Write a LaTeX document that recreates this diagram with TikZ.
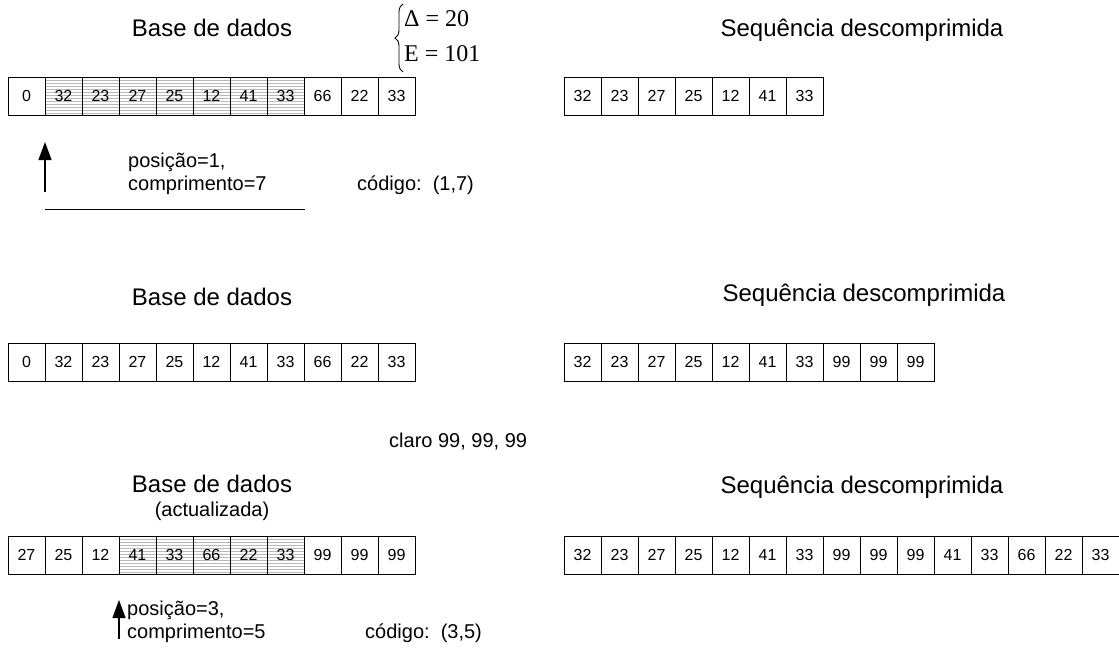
\documentclass[tikz,border=0pt]{standalone}
\usepackage{fontspec}
\setmainfont{Liberation Sans}
\newfontfamily\timesf{Liberation Serif}
\usetikzlibrary{patterns,arrows.meta,decorations.pathreplacing}
\begin{document}
\begin{tikzpicture}[x=1pt,y=-1pt,
  cell/.style={draw, line width=1pt, minimum width=37pt, minimum height=38pt, inner sep=0pt, font=\fontsize{16}{18}\selectfont},
  none/.style={},
  shd/.style={pattern=horizontal lines, pattern color=gray!55},
  title/.style={font=\fontsize{24}{28}\selectfont},
  lbl/.style={font=\fontsize{20}{23}\selectfont, anchor=west, inner sep=0pt},
  eq/.style={font=\timesf\fontsize{24}{28}\selectfont, anchor=west, inner sep=0pt},
  arr/.style={line width=1.2pt, -{Triangle[length=18pt,width=13pt]}}]
\useasboundingbox (0,0) rectangle (1119,657);

% ---- Row 1 ----
\node[title] (t1l) at (212,28) {Base de dados};
\node[title] (t1r) at (862,30) {Sequência descomprimida};
\draw[decorate, decoration={brace, amplitude=8pt}, line width=0.9pt] (403,72) -- (403,4);
\node[eq] (d1) at (404,19) {Δ = 20};
\node[eq] (d2) at (404,54) {E = 101};

\foreach \v/\s [count=\i] in {0/none,32/shd,23/shd,27/shd,25/shd,12/shd,41/shd,33/shd,66/none,22/none,33/none}
  \node[cell,\s] (a\i) at ({8+37*(\i-0.5)},96) {\v};
\foreach \v [count=\i] in {32,23,27,25,12,41,33}
  \node[cell] (b\i) at ({564+37*(\i-0.5)},96) {\v};

\coordinate (p1s) at (45,192);
\coordinate (p1e) at (45,142);
\draw[arr] (p1s) -- (p1e);
\node[lbl] (pos1) at (128,162) {posição=1,};
\node[lbl] (com1) at (128,185) {comprimento=7};
\node[lbl] (cod1) at (357,185) {código:\ \ (1,7)};
\coordinate (l1a) at (45,209);
\coordinate (l1b) at (305,209);
\draw[line width=1pt] (l1a) -- (l1b);

% ---- Row 2 ----
\node[title] (t2l) at (212,297) {Base de dados};
\node[title] (t2r) at (864,295) {Sequência descomprimida};
\foreach \v [count=\i] in {0,32,23,27,25,12,41,33,66,22,33}
  \node[cell] (c\i) at ({8+37*(\i-0.5)},362) {\v};
\foreach \v [count=\i] in {32,23,27,25,12,41,33,99,99,99}
  \node[cell] (e\i) at ({564+37*(\i-0.5)},362) {\v};

\node[lbl] (claro) at (389,442) {claro 99, 99, 99};

% ---- Row 3 ----
\node[title] (t3l) at (212,484) {Base de dados};
\node[font=\fontsize{20}{23}\selectfont] (t3s) at (212,511) {(actualizada)};
\node[title] (t3r) at (862,487) {Sequência descomprimida};
\foreach \v/\s [count=\i] in {27/none,25/none,12/none,41/shd,33/shd,66/shd,22/shd,33/shd,99/none,99/none,99/none}
  \node[cell,\s] (f\i) at ({8+37*(\i-0.5)},555) {\v};
\foreach \v [count=\i] in {32,23,27,25,12,41,33,99,99,99,41,33,66,22,33}
  \node[cell] (g\i) at ({564+37*(\i-0.5)},555) {\v};

\coordinate (p2s) at (119,639);
\coordinate (p2e) at (119,600);
\draw[arr] (p2s) -- (p2e);
\node[lbl] (pos2) at (127,610) {posição=3,};
\node[lbl] (com2) at (127,633) {comprimento=5};
\node[lbl] (cod2) at (365,633) {código:\ \ (3,5)};
\end{tikzpicture}
\end{document}
